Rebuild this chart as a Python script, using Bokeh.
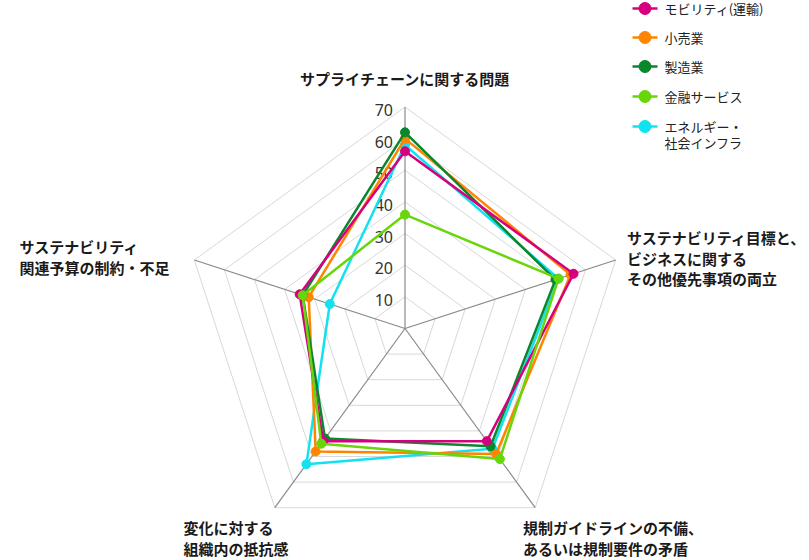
import math
from bokeh.plotting import figure
from bokeh.models import Range1d
from bokeh.core.properties import value
from bokeh.embed import file_html
from bokeh.resources import INLINE

# ---------------- data ----------------
categories = [
    "サプライチェーンに関する問題",
    "サステナビリティ目標と、ビジネスに関するその他優先事項の両立",
    "規制ガイドラインの不備、あるいは規制要件の矛盾",
    "変化に対する組織内の抵抗感",
    "サステナビリティ関連予算の制約・不足",
]
category_lines = [
    ["サプライチェーンに関する問題"],
    ["サステナビリティ目標と、", "ビジネスに関する", "その他優先事項の両立"],
    ["規制ガイドラインの不備、", "あるいは規制要件の矛盾"],
    ["変化に対する", "組織内の抵抗感"],
    ["サステナビリティ", "関連予算の制約・不足"],
]
series_names = ["モビリティ(運輸)", "小売業", "製造業", "金融サービス", "エネルギー・\n社会インフラ"]
mobility = [56, 56, 44, 44, 35]
retail = [60, 55, 49, 48, 32]
manufacturing = [62, 50, 46, 43, 34]
finance = [36, 51, 51, 45, 34]
energy = [58, 51, 47, 53, 25]
series_values = [mobility, retail, manufacturing, finance, energy]
ticks = [10, 20, 30, 40, 50, 60, 70]
r_max = 70

colors = ["#d6007f", "#ff8500", "#0a862c", "#68d60a", "#12e2f0"]

# ---------------- layout ----------------
W, H = 809, 560
OX, OY = 0, 0                  # canvas origin in picture pixels
CX, CY = 404.5, 328.0          # picture pixel position of radar centre
S = 221.5 / r_max              # pixels per unit


def P(px, py):
    return ((px - CX) / S, (CY - py) / S)


p = figure(width=W, height=H,
           x_range=Range1d((OX - CX) / S, (OX + W - CX) / S),
           y_range=Range1d((CY - OY - H) / S, (CY - OY) / S),
           x_axis_type=None, y_axis_type=None,
           output_backend="svg", toolbar_location=None, min_border=0)
p.outline_line_color = None
p.background_fill_color = "white"
p.border_fill_color = "white"

n = len(categories)
thetas = [math.pi / 2 - i * 2 * math.pi / n for i in range(n)]
cos_t = [math.cos(t) for t in thetas]
sin_t = [math.sin(t) for t in thetas]

# rings
ring_xs = [[v * c for c in cos_t + [cos_t[0]]] for v in ticks]
ring_ys = [[v * s for s in sin_t + [sin_t[0]]] for v in ticks]
p.multi_line(ring_xs, ring_ys, line_color="#d8d8d8", line_width=1)

# spokes
p.segment(x0=[0] * n, y0=[0] * n, x1=[r_max * c for c in cos_t], y1=[r_max * s for s in sin_t],
          line_color="#8a8a8a", line_width=1.2)

# tick labels
p.text(x=[0] * len(ticks), y=ticks, text=[str(t) for t in ticks],
       text_align="right", text_baseline="middle", x_offset=-12, y_offset=3,
       text_font_size="16px", text_color="#333333", text_font=value("Noto Sans"))

# series (drawing order)
order = [4, 1, 2, 0, 3]
for k in order:
    vals = series_values[k]
    xs = [v * c for v, c in zip(vals, cos_t)]
    ys = [v * s for v, s in zip(vals, sin_t)]
    p.line(xs + [xs[0]], ys + [ys[0]], line_color=colors[k], line_width=2.5, line_join="round")
    p.scatter(xs, ys, size=9, fill_color=colors[k], line_color=colors[k])

# category labels (picture pixel anchors)
label_anchor = [
    (404.5, 77.5, "center"),
    (626.5, 236.7, "left"),
    (522.5, 527.0, "left"),
    (183.0, 527.0, "left"),
    (19.0, 245.7, "left"),
]
line_gap = [0, 20.8, 20.5, 20.5, 21.0]
for i, lines in enumerate(category_lines):
    ax, ay, al = label_anchor[i]
    for j, t in enumerate(lines):
        x, y = P(ax, ay + j * line_gap[i])
        p.text(x=[x], y=[y], text=[t], text_align=al, text_baseline="middle",
               text_font_size="15px", text_font_style="bold", text_color="#1a1a1a",
               text_font=value("Noto Sans CJK JP"))

# legend (drawn manually)
leg_rows = [8, 37, 66, 96, 126]
for k, name in enumerate(series_names):
    yc = leg_rows[k]
    x0, y0 = P(632, yc)
    x1, _ = P(657, yc)
    xm, _ = P(644.5, yc)
    p.line([x0, x1], [y0, y0], line_color=colors[k], line_width=2.5)
    p.scatter([xm], [y0], size=12, fill_color=colors[k], line_color=colors[k])
    for j, t in enumerate(name.split("\n")):
        tx, ty = P(664, yc + j * 16)
        p.text(x=[tx], y=[ty], text=[t], text_align="left", text_baseline="middle",
               text_font_size="13px", text_color="#222222",
               text_font=value("Noto Sans CJK JP"))

open("out.html", "w").write(file_html(p, INLINE))
